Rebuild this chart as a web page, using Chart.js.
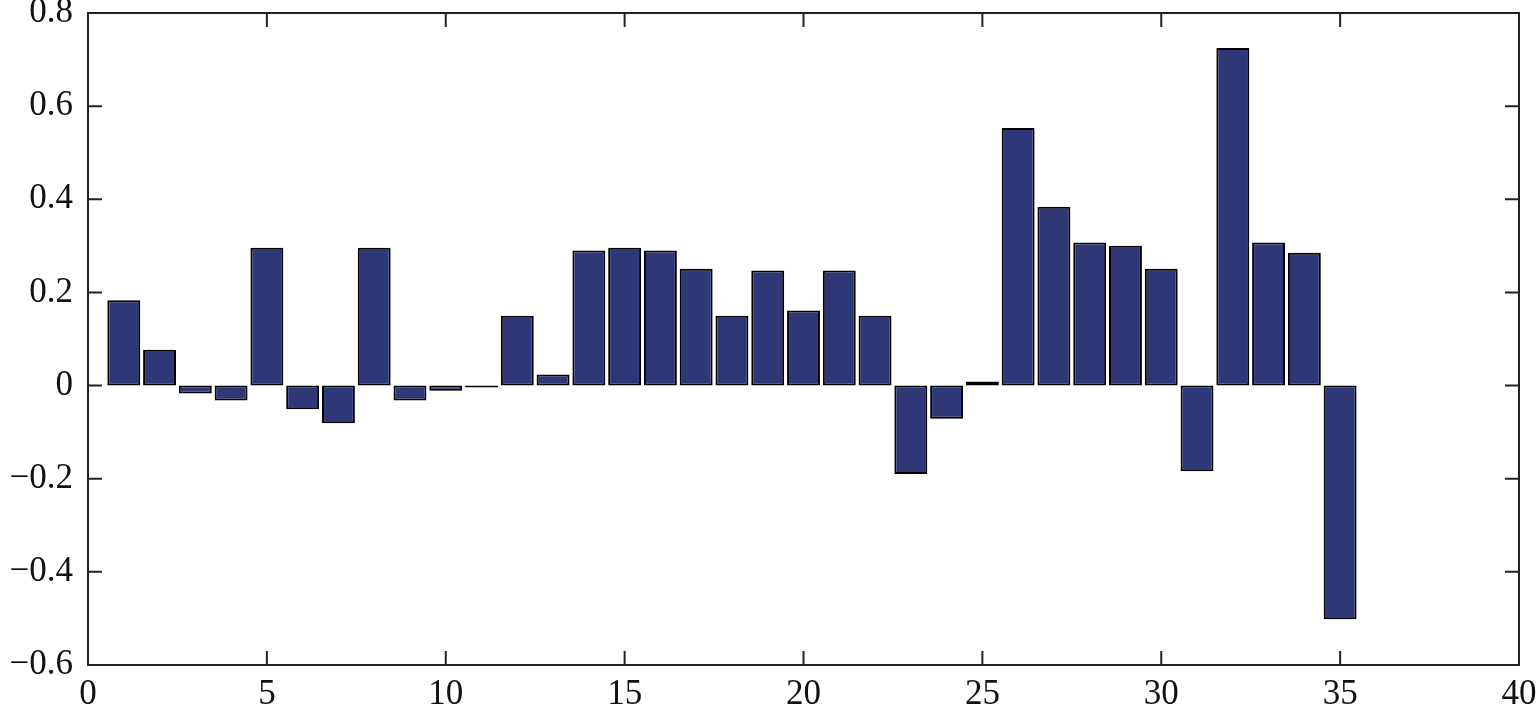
<!DOCTYPE html>
<html lang="en">
  <head>
    <meta charset="utf-8">
    <title>Bar chart</title>
    <script src="https://cdn.jsdelivr.net/npm/chart.js"></script>
    <style>
      html, body { margin: 0; padding: 0; background: #fff; }
      #wrap { width: 1536px; height: 705px; }
    </style>
  </head>
  <body>
    <div id="wrap"><canvas id="barChart" width="1536" height="705"></canvas></div>

    <script>
      // data
      var idx = [];
      for (var i = 1; i <= 35; i++) idx.push(i);
      var values = [0.183, 0.077, -0.017, -0.032, 0.296, -0.051, -0.081, 0.296, -0.032, -0.011,
                    -0.004, 0.150, 0.024, 0.290, 0.296, 0.290, 0.251, 0.150, 0.247, 0.161,
                    0.247, 0.150, -0.190, -0.071, 0.009, 0.553, 0.384, 0.307, 0.300, 0.251,
                    -0.184, 0.725, 0.307, 0.285, -0.502];
      var xTicks = [0, 5, 10, 15, 20, 25, 30, 35, 40];
      var yTicks = [-0.6, -0.4, -0.2, 0, 0.2, 0.4, 0.6, 0.8];

      var points = idx.map(function (x, i) { return { x: x, y: values[i] }; });
      var ink = '#111111';
      var tickFont = { family: "'Liberation Serif', 'Times New Roman', serif", size: 35 };

      // frame + inward ticks on all four sides (matlab "box on" look)
      var framePlugin = {
        id: 'frame',
        afterDraw: function (chart) {
          var ctx = chart.ctx, a = chart.chartArea;
          var xs = chart.scales.x, ys = chart.scales.y;
          var len = 14;
          ctx.save();
          ctx.strokeStyle = '#222222';
          ctx.lineWidth = 2;
          ctx.beginPath();
          xTicks.forEach(function (t) {
            var px = xs.getPixelForValue(t);
            ctx.moveTo(px, a.bottom); ctx.lineTo(px, a.bottom - len);
            ctx.moveTo(px, a.top); ctx.lineTo(px, a.top + len);
          });
          yTicks.forEach(function (t) {
            var py = ys.getPixelForValue(t);
            ctx.moveTo(a.left, py); ctx.lineTo(a.left + len, py);
            ctx.moveTo(a.right, py); ctx.lineTo(a.right - len, py);
          });
          ctx.stroke();
          ctx.strokeRect(a.left, a.top, a.right - a.left, a.bottom - a.top);
          ctx.restore();
        }
      };

      var chart = new Chart(document.getElementById('barChart'), {
        type: 'bar',
        data: {
          datasets: [{
            data: points,
            backgroundColor: '#2e3877',
            borderColor: '#000000',
            borderWidth: 2,
            borderSkipped: false,
            barPercentage: 0.92,
            categoryPercentage: 1.0
          }]
        },
        options: {
          responsive: false,
          animation: false,
          layout: { padding: { top: 13, right: 17, left: 0, bottom: 0 } },
          plugins: { legend: { display: false }, tooltip: { enabled: false } },
          scales: {
            x: {
              type: 'linear',
              offset: false,
              min: 0, max: 40,
              afterBuildTicks: function (s) { s.ticks = xTicks.map(function (v) { return { value: v }; }); },
              afterFit: function (s) { s.height = 40; s.paddingLeft = 0; s.paddingRight = 0; },
              grid: { display: false, drawTicks: false },
              border: { display: false },
              ticks: {
                padding: 9,
                maxRotation: 0,
                autoSkip: false,
                color: ink,
                font: tickFont
              }
            },
            y: {
              min: -0.6, max: 0.8,
              afterBuildTicks: function (s) { s.ticks = yTicks.map(function (v) { return { value: v }; }); },
              afterFit: function (s) { s.width = 88; s.paddingTop = 0; s.paddingBottom = 0; },
              grid: { display: false, drawTicks: false },
              border: { display: false },
              ticks: {
                padding: 15,
                color: ink,
                font: tickFont,
                callback: function (v) {
                  var t = Math.abs(v) < 1e-9 ? '0' : String(Math.round(v * 10) / 10);
                  return t.replace('-', '\u2212');
                }
              }
            }
          }
        },
        plugins: [framePlugin]
      });
    </script>
  </body>
</html>
